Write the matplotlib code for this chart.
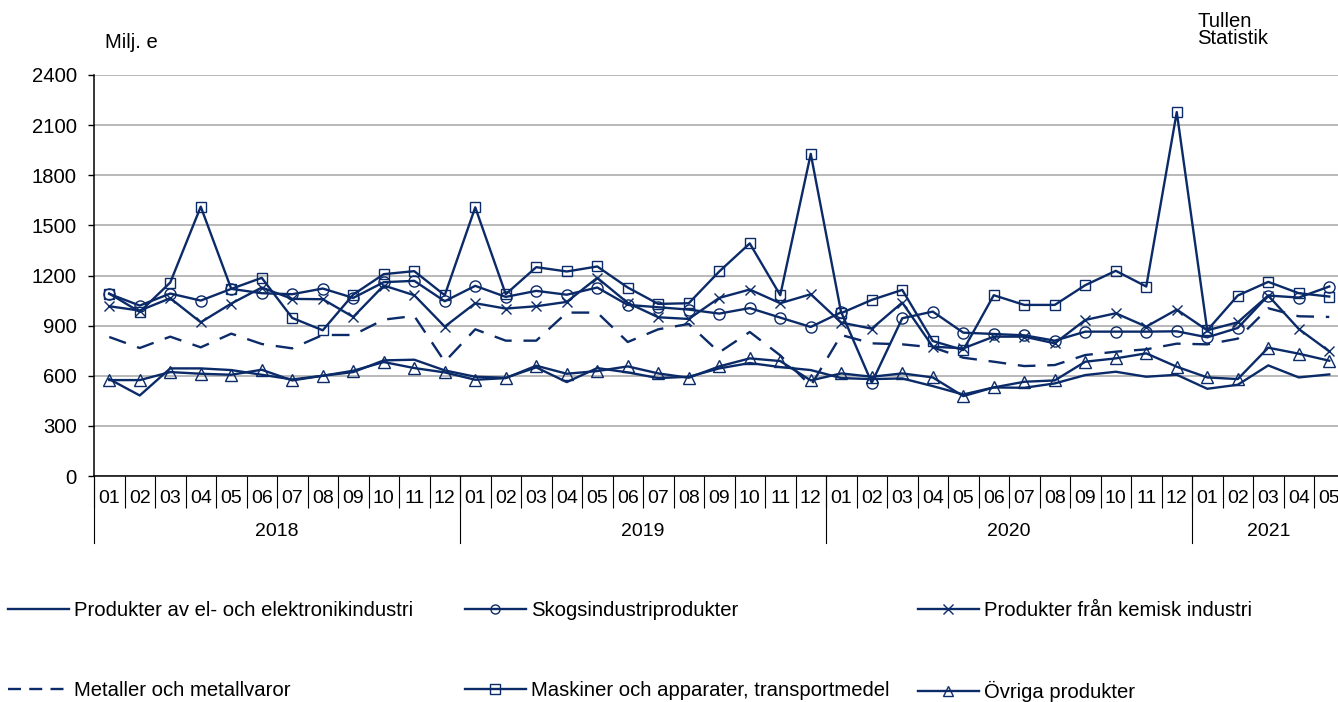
import matplotlib.pyplot as plt
import numpy as np
from matplotlib.lines import Line2D

plt.rcParams['font.family'] = ['Liberation Sans', 'DejaVu Sans']

# kategorier: månader 2018-01 .. 2021-05
years = ['2018', '2019', '2020', '2021']
year_counts = [12, 12, 12, 5]
months = [f'{m:02d}' for m in range(1, 13)] * 3 + [f'{m:02d}' for m in range(1, 6)]

# serier (milj. euro)
el = [580, 482, 644, 644, 634, 606, 578, 600, 622, 692, 696, 632,
      594, 588, 650, 562, 646, 620, 586, 594, 644, 676, 652, 634,
      586, 580, 584, 538, 488, 530, 528, 554, 604, 624, 594, 606,
      522, 546, 662, 590, 608]
skog = [1090, 1020, 1092, 1050, 1120, 1094, 1088, 1122, 1066, 1160, 1168, 1046,
        1138, 1072, 1108, 1085, 1128, 1024, 1010, 996, 972, 1005, 948, 892,
        980, 558, 944, 984, 858, 850, 842, 810, 864, 864, 864, 866,
        830, 886, 1080, 1068, 1134]
kemisk = [1016, 990, 1064, 920, 1032, 1128, 1060, 1058, 952, 1140, 1082, 894,
          1034, 1002, 1016, 1042, 1186, 1036, 950, 940, 1066, 1116, 1034, 1088,
          918, 882, 1038, 774, 764, 834, 834, 794, 934, 974, 894, 996,
          872, 920, 1080, 880, 746]
metall = [832, 766, 834, 770, 852, 790, 764, 844, 844, 936, 958, 684,
          878, 810, 810, 978, 978, 802, 878, 910, 740, 862, 722, 540,
          844, 794, 788, 770, 708, 684, 658, 664, 724, 744, 758, 792,
          788, 822, 1004, 956, 952]
maskin = [1092, 982, 1158, 1612, 1120, 1186, 946, 872, 1086, 1208, 1226, 1082,
          1608, 1088, 1250, 1224, 1254, 1128, 1030, 1034, 1224, 1392, 1082, 1928,
          975, 1054, 1114, 808, 754, 1082, 1024, 1024, 1142, 1228, 1134, 2178,
          872, 1080, 1162, 1094, 1074]
ovriga = [574, 574, 622, 612, 606, 636, 572, 600, 630, 682, 646, 620,
          576, 586, 660, 612, 628, 656, 614, 588, 656, 704, 688, 572,
          614, 594, 614, 590, 478, 530, 564, 572, 684, 704, 734, 654,
          590, 580, 768, 732, 690]

labels = ['Produkter av el- och elektronikindustri', 'Skogsindustriprodukter',
          'Produkter från kemisk industri', 'Metaller och metallvaror',
          'Maskiner och apparater, transportmedel', 'Övriga produkter']

navy = '#0b2a68'
narrow = ['Liberation Sans Narrow', 'Liberation Sans', 'DejaVu Sans']

fig = plt.figure(figsize=(13.38, 7.02), dpi=100)
# axeln fortsätter förbi bildens högra kant, som i originalet
ax = fig.add_axes([94 / 1338, 226 / 702, 1250.5 / 1338, 401 / 702])

x = np.arange(len(months))
lw = 1.7
styles = [
    dict(data=el, marker=None, ms=0, ls='-'),
    dict(data=skog, marker='o', ms=8, ls='-'),
    dict(data=kemisk, marker='x', ms=7, ls='-'),
    dict(data=metall, marker=None, ms=0, ls='--'),
    dict(data=maskin, marker='s', ms=7.2, ls='-'),
    dict(data=ovriga, marker='^', ms=9, ls='-'),
]
handles = []
for st, lab in zip(styles, labels):
    line, = ax.plot(x, st['data'], color=navy, lw=lw, ls=st['ls'],
                    marker=st['marker'], ms=st['ms'], mfc='none',
                    mec=navy, mew=1.0, zorder=3)
    if st['ls'] == '--':
        line.set_dashes((7.5, 5))
    h = Line2D([], [], color=navy, lw=lw, ls=st['ls'], marker=st['marker'],
               ms=6.5, mfc='none', mec=navy, mew=1.0)
    if st['ls'] == '--':
        h.set_dashes((5.5, 3.5))
    handles.append(h)

ax.set_xlim(-0.5, len(months) - 0.5)
ax.set_ylim(0, 2400)
ax.set_yticks(np.arange(0, 2401, 300))
ax.yaxis.grid(True, color='#a6a6a6', lw=1.1)
ax.set_axisbelow(True)
for s in ['top', 'right']:
    ax.spines[s].set_visible(False)
for s in ['left', 'bottom']:
    ax.spines[s].set_color('black')
    ax.spines[s].set_linewidth(1.1)
ax.tick_params(axis='y', length=4.5, width=1, pad=8, labelsize=14.6)

# månadsetiketter och kategoriavgränsare
ax.set_xticks(x, labels=months, fontsize=14, family=narrow)
ax.tick_params(axis='x', which='major', length=0, pad=10)
ax.set_xticks(np.arange(-0.5, len(months)), minor=True)
ax.tick_params(axis='x', which='minor', length=23, width=0.8, color='black')

bounds = np.concatenate([[0], np.cumsum(year_counts)]) - 0.5
trans = ax.get_xaxis_transform()
for b in bounds:
    ax.plot([b, b], [0, -0.167], transform=trans, clip_on=False,
            color='black', lw=0.8)
for i, yr in enumerate(years):
    ax.text((bounds[i] + bounds[i + 1]) / 2, -0.139, yr, transform=trans,
            ha='center', va='center', fontsize=14, family=narrow)

fig.text(105 / 1338, 1 - 43 / 702, 'Milj. e', ha='left', va='center', fontsize=14.6)
fig.text(1197 / 1338, 1 - 12 / 702, 'Tullen\nStatistik', ha='left', va='top',
         fontsize=14.6, linespacing=0.9)

# förklaring i tre kolumner, två rader
cols = [(8, [0, 3]), (465, [1, 4]), (918, [2, 5])]
for px, idx in cols:
    leg = fig.legend([handles[i] for i in idx], [labels[i] for i in idx],
                     loc='upper left', bbox_to_anchor=(px / 1338, 1 - 601 / 702),
                     frameon=False, fontsize=14.6, handlelength=3.0,
                     handletextpad=0.25, labelspacing=3.0, borderpad=0,
                     borderaxespad=0)

fig.savefig('out.png', dpi=100)
